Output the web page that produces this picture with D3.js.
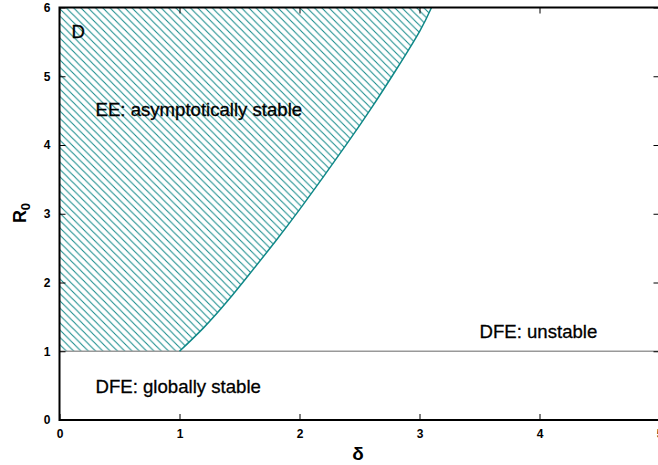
<!DOCTYPE html>
<html><head><meta charset="utf-8">
<script src="https://cdn.jsdelivr.net/npm/d3@7"></script>
<style>body{margin:0;background:#fff}svg{display:block}</style>
</head><body>
<svg id="c" width="658" height="465"></svg>
<script>
// boundary curve between DFE-unstable / EE stable region (delta, R0)
const curveDelta = [1, 1.2, 1.4, 1.6, 1.8, 2.0, 2.2, 2.4, 2.6, 2.8, 3.0, 3.1];
const curveR0    = [1, 1.34, 1.73, 2.16, 2.6, 3.06, 3.54, 4.03, 4.54, 5.08, 5.65, 6.0];
const thresholdR0 = 1;
const xTicks = [0, 1, 2, 3, 4, 5];
const yTicks = [0, 1, 2, 3, 4, 5, 6];
const labels = [
  {text: "D", x: 0.1, y: 5.55},
  {text: "EE: asymptotically stable", x: 0.3, y: 4.42},
  {text: "DFE: unstable", x: 3.5, y: 1.2},
  {text: "DFE: globally stable", x: 0.3, y: 0.4}
];

const svg = d3.select("#c");
const x = d3.scaleLinear().domain([0, 5]).range([59.5, 659.5]);
const y = d3.scaleLinear().domain([0, 6]).range([420, 7.5]);
const teal = "#108888";

const defs = svg.append("defs");
const pat = defs.append("pattern").attr("id", "hatch")
  .attr("patternUnits", "userSpaceOnUse").attr("width", 7.3).attr("height", 7.3);
pat.append("path").attr("d", "M-1,-1 L8.3,8.3 M-1,6.3 L1,8.3 M6.3,-1 L8.3,1")
  .attr("stroke", teal).attr("stroke-width", 1).attr("fill", "none");

const pts = curveDelta.map((d, i) => [d, curveR0[i]]);
const curveGen = d3.line().x(d => x(d[0])).y(d => y(d[1])).curve(d3.curveNatural);
const curveD = curveGen(pts);

// hatched region: curve, then back along top edge and left edge
svg.append("path")
  .attr("d", curveD + `L${x(0)},${y(6)}L${x(0)},${y(thresholdR0)}Z`)
  .attr("fill", "url(#hatch)");

// threshold line
svg.append("line").attr("x1", x(0)).attr("x2", x(5)).attr("y1", y(thresholdR0)).attr("y2", y(thresholdR0))
  .attr("stroke", "#999").attr("stroke-width", 1.5);

// boundary curve
svg.append("path").attr("d", curveD)
  .attr("fill", "none").attr("stroke", teal).attr("stroke-width", 1.5);

// axes
const font = "'Liberation Sans', Arial, Helvetica, sans-serif";
function styleAxis(g) {
  g.select(".domain").remove();
  g.selectAll(".tick line").attr("stroke", "#000").attr("stroke-width", 1);
  g.selectAll(".tick text").attr("font-family", font).attr("font-size", 12).attr("font-weight", "bold").attr("fill", "#000");
}
svg.append("g").attr("transform", `translate(0,${y(0)})`)
  .call(d3.axisBottom(x).tickValues(xTicks).tickSizeInner(-6).tickSizeOuter(0).tickPadding(9).tickFormat(d3.format("d")))
  .call(styleAxis);
svg.append("g").attr("transform", `translate(0,${y(6)})`)
  .call(d3.axisTop(x).tickValues(xTicks).tickSizeInner(-6).tickSizeOuter(0).tickFormat(""))
  .call(styleAxis);
svg.append("g").attr("transform", `translate(${x(0)},0)`)
  .call(d3.axisLeft(y).tickValues(yTicks).tickSizeInner(-6).tickSizeOuter(0).tickPadding(9).tickFormat(d3.format("d")))
  .call(styleAxis);
svg.append("g").attr("transform", `translate(${x(5)},0)`)
  .call(d3.axisRight(y).tickValues(yTicks).tickSizeInner(-6).tickSizeOuter(0).tickFormat(""))
  .call(styleAxis);

// frame
svg.append("rect").attr("x", x(0)).attr("y", y(6)).attr("width", x(5) - x(0)).attr("height", y(0) - y(6))
  .attr("fill", "none").attr("stroke", "#000").attr("stroke-width", 2);

// region labels
svg.selectAll("text.lab").data(labels).enter().append("text").attr("class", "lab")
  .attr("x", d => x(d.x)).attr("y", d => y(d.y))
  .attr("font-family", font).attr("font-size", 18.6).attr("fill", "#000")
  .attr("stroke", "#000").attr("stroke-width", 0.3)
  .text(d => d.text);

// axis titles
svg.append("text").attr("x", 358).attr("y", 460).attr("text-anchor", "middle")
  .attr("font-family", font).attr("font-size", 19).attr("font-weight", "bold").text("δ");
const yl = svg.append("text").attr("transform", "translate(26,213) rotate(-90)").attr("text-anchor", "middle")
  .attr("font-family", font).attr("font-size", 18).attr("font-weight", "bold");
yl.append("tspan").text("R");
yl.append("tspan").attr("font-size", 13).attr("dy", 4).text("0");
</script>
</body></html>
